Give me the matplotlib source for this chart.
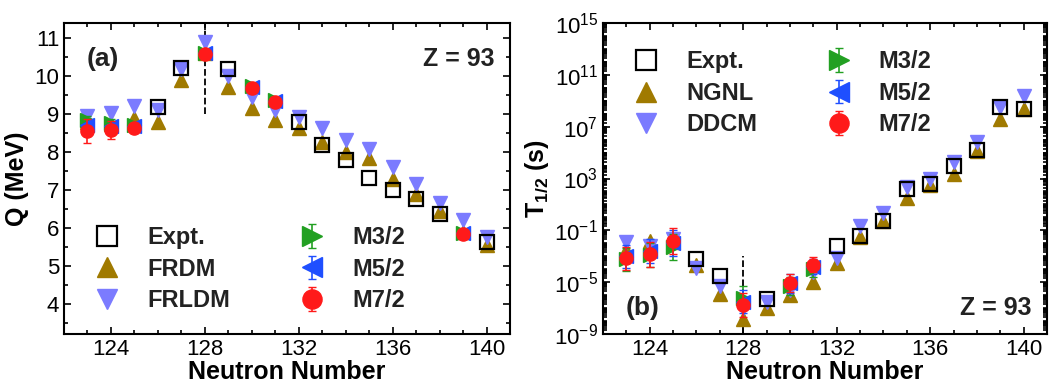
import numpy as np
import matplotlib
matplotlib.use("Agg")
import matplotlib.pyplot as plt
from matplotlib.ticker import MultipleLocator, LogLocator, NullFormatter

plt.rcParams['font.family'] = ['Liberation Sans', 'DejaVu Sans']
plt.rcParams['mathtext.fontset'] = 'custom'
plt.rcParams['mathtext.rm'] = 'Liberation Sans'
plt.rcParams['mathtext.bf'] = 'Liberation Sans:bold'

# ---------------- panel (a): Q values (MeV)
N_expt_a = [126, 127, 129, 132, 133, 134, 135, 136, 137, 138, 140]
Q_expt = [9.18, 10.21, 10.18, 8.79, 8.18, 7.79, 7.31, 7.0, 6.76, 6.37, 5.63]

N_th = [123, 124, 125, 126, 127, 128, 129, 130, 131, 132, 133, 134, 135, 136, 137, 138, 139, 140]
Q_frdm = [8.8, 8.75, 8.9, 8.8, 9.9, 10.6, 9.7, 9.15, 8.84, 8.63, 8.27, 8.0, 7.84, 7.3, 6.89, 6.45, 5.9, 5.55]
Q_frldm = [8.95, 9.02, 9.2, 9.1, 10.2, 10.9, 10.0, 9.45, 9.1, 8.92, 8.63, 8.32, 8.07, 7.6, 7.15, 6.65, 6.21, 5.77]

N_m_a = [123, 124, 125, 128, 130, 131, 139]
Q_m32 = [8.84, 8.76, 8.72, 10.6, 9.74, 9.36, 5.86]
Q_m32_err = [0.12, 0.1, 0.08, 0.05, 0.05, 0.05, 0.04]
Q_m52 = [8.72, 8.68, 8.68, 10.62, 9.72, 9.34, 5.87]
Q_m52_err = [0.15, 0.12, 0.08, 0.05, 0.05, 0.05, 0.04]
Q_m72 = [8.55, 8.58, 8.63, 10.58, 9.69, 9.32, 5.84]
Q_m72_err = [0.32, 0.24, 0.1, 0.05, 0.05, 0.05, 0.04]

# ---------------- panel (b): log10 T1/2 (s)
N_expt_b = [126, 127, 129, 132, 133, 134, 135, 136, 137, 138, 139, 140]
lgT_expt = [-3.25, -4.5, -6.3, -2.24, -1.45, -0.3, 2.18, 2.57, 3.97, 5.2, 8.55, 8.4]

lgT_ngnl = [-2.5, -1.86, -1.9, -3.7, -5.9, -7.85, -7.0, -5.97, -4.96, -3.5, -1.5, -0.3, 1.49, 2.5, 3.34, 5.1, 7.6, 8.4]
lgT_ddcm = [-1.93, -2.2, -1.7, -3.87, -5.27, -7.0, -6.5, -5.6, -4.2, -3.1, -0.7, 0.32, 2.34, 2.96, 4.28, 5.8, 8.5, 9.4]

N_m_b = [123, 124, 125, 128, 130, 131]
lgT_m32 = [-3.25, -2.9, -2.3, -6.2, -5.3, -4.0]
lgT_m52 = [-3.0, -2.6, -2.0, -6.5, -5.1, -3.8]
lgT_m72 = [-3.17, -2.86, -1.85, -6.75, -5.04, -3.64]
lgT_m_err = [0.9, 0.95, 1.0, 0.9, 0.7, 0.6]

c_gold = '#A07A00'
c_vio = '#7B7BFF'
c_green = '#22A022'
c_blue = '#1F4FFF'
c_red = '#FF1A1A'

fig = plt.figure(figsize=(10.49, 3.87), dpi=100)
ax1 = fig.add_axes([64/1049, 53/387, 446/1049, 311/387])
ax2 = fig.add_axes([603/1049, 53/387, 444/1049, 311/387])

ms = 9.5

def style_axis(ax):
	for s in ax.spines.values():
		s.set_linewidth(1.5)
	ax.tick_params(which='both', direction='in', top=True, right=True, width=1.2, labelsize=16)
	ax.tick_params(which='major', length=5)
	ax.tick_params(which='minor', length=3)
	ax.xaxis.set_major_locator(MultipleLocator(4))
	ax.xaxis.set_minor_locator(MultipleLocator(1))
	ax.set_xlim(122, 141)
	ax.set_xlabel("Neutron Number", fontsize=18, fontweight='bold', labelpad=0)

# panel a
ax1.plot(N_th, Q_frdm, ls='', marker='^', color=c_gold, ms=ms, label='FRDM', zorder=2)
ax1.plot(N_th, Q_frldm, ls='', marker='v', color=c_vio, ms=ms, label='FRLDM', zorder=2)
ax1.errorbar(N_m_a, Q_m32, yerr=Q_m32_err, ls='', marker='>', color=c_green, ms=ms, capsize=3, elinewidth=1.2, label='M3/2', zorder=3)
ax1.errorbar(N_m_a, Q_m52, yerr=Q_m52_err, ls='', marker='<', color=c_blue, ms=ms, capsize=3, elinewidth=1.2, label='M5/2', zorder=3)
ax1.errorbar(N_m_a, Q_m72, yerr=Q_m72_err, ls='', marker='o', color=c_red, ms=ms, capsize=3, elinewidth=1.2, label='M7/2', zorder=4)
ax1.plot(N_expt_a, Q_expt, ls='', marker='s', mfc='none', mec='black', mew=1.6, ms=ms, label='Expt.', zorder=5)
ax1.plot([128, 128], [9.0, 11.4], ls='--', color='black', lw=1.3, zorder=1)
style_axis(ax1)
ax1.set_ylim(3.2, 11.4)
ax1.yaxis.set_major_locator(MultipleLocator(1))
ax1.yaxis.set_minor_locator(MultipleLocator(0.5))
ax1.set_ylabel("Q (MeV)", fontsize=18, fontweight='bold', labelpad=4)
ax1.text(0.05, 0.885, "(a)", transform=ax1.transAxes, fontsize=19, fontweight='bold', color='#222222', va='center')
ax1.text(0.965, 0.885, "Z = 93", transform=ax1.transAxes, fontsize=18, fontweight='bold', color='#222222', va='center', ha='right')
hh, ll = ax1.get_legend_handles_labels()
order = ['Expt.', 'FRDM', 'FRLDM', 'M3/2', 'M5/2', 'M7/2']
hd = dict(zip(ll, hh))
ax1.legend([hd[k] for k in order], order, ncol=2, loc='upper left', bbox_to_anchor=(0.018, 0.385),
	frameon=False, borderpad=0, markerscale=1.45, handlelength=2.0, handletextpad=0.7, columnspacing=2.45,
	labelspacing=0.36, prop={'size': 17, 'weight': 'bold'}, labelcolor='#222222')

# panel b
Nb = np.array(N_th)
ax2.plot(Nb, 10.0**np.array(lgT_ngnl), ls='', marker='^', color=c_gold, ms=ms, label='NGNL', zorder=2)
ax2.plot(Nb, 10.0**np.array(lgT_ddcm), ls='', marker='v', color=c_vio, ms=ms, label='DDCM', zorder=2)
err = np.array(lgT_m_err)
for vals, mk, col, lab, z in [(lgT_m32, '>', c_green, 'M3/2', 3), (lgT_m52, '<', c_blue, 'M5/2', 3), (lgT_m72, 'o', c_red, 'M7/2', 4)]:
	v = np.array(vals)
	yv = 10.0**v
	ax2.errorbar(N_m_b, yv, yerr=[yv - 10.0**(v - err), 10.0**(v + err) - yv], ls='', marker=mk, color=col, ms=ms,
		capsize=3, elinewidth=1.2, label=lab, zorder=z)
ax2.plot(N_expt_b, 10.0**np.array(lgT_expt), ls='', marker='s', mfc='none', mec='black', mew=1.6, ms=ms, label='Expt.', zorder=5)
ax2.plot([128, 128], [1e-9, 1e-3], ls='--', color='black', lw=1.3, zorder=1)
style_axis(ax2)
ax2.set_yscale('log')
ax2.set_ylim(1e-9, 1e15)
ax2.set_yticks([1e-9, 1e-5, 1e-1, 1e3, 1e7, 1e11, 1e15])
ax2.yaxis.set_minor_locator(LogLocator(base=10, subs=np.arange(1, 10), numticks=200))
ax2.yaxis.set_minor_formatter(NullFormatter())
ax2.set_ylabel(r"T$_{\mathbf{1/2}}$ (s)", fontsize=18, fontweight='bold', labelpad=2)
ax2.text(0.05, 0.085, "(b)", transform=ax2.transAxes, fontsize=19, fontweight='bold', color='#222222', va='center')
ax2.text(0.965, 0.085, "Z = 93", transform=ax2.transAxes, fontsize=18, fontweight='bold', color='#222222', va='center', ha='right')
hh, ll = ax2.get_legend_handles_labels()
order = ['Expt.', 'NGNL', 'DDCM', 'M3/2', 'M5/2', 'M7/2']
hd = dict(zip(ll, hh))
ax2.legend([hd[k] for k in order], order, ncol=2, loc='upper left', bbox_to_anchor=(0.017, 0.95),
	frameon=False, borderpad=0, markerscale=1.45, handlelength=2.0, handletextpad=0.7, columnspacing=2.45,
	labelspacing=0.36, prop={'size': 17, 'weight': 'bold'}, labelcolor='#222222')

fig.savefig("out.png", dpi=100)
